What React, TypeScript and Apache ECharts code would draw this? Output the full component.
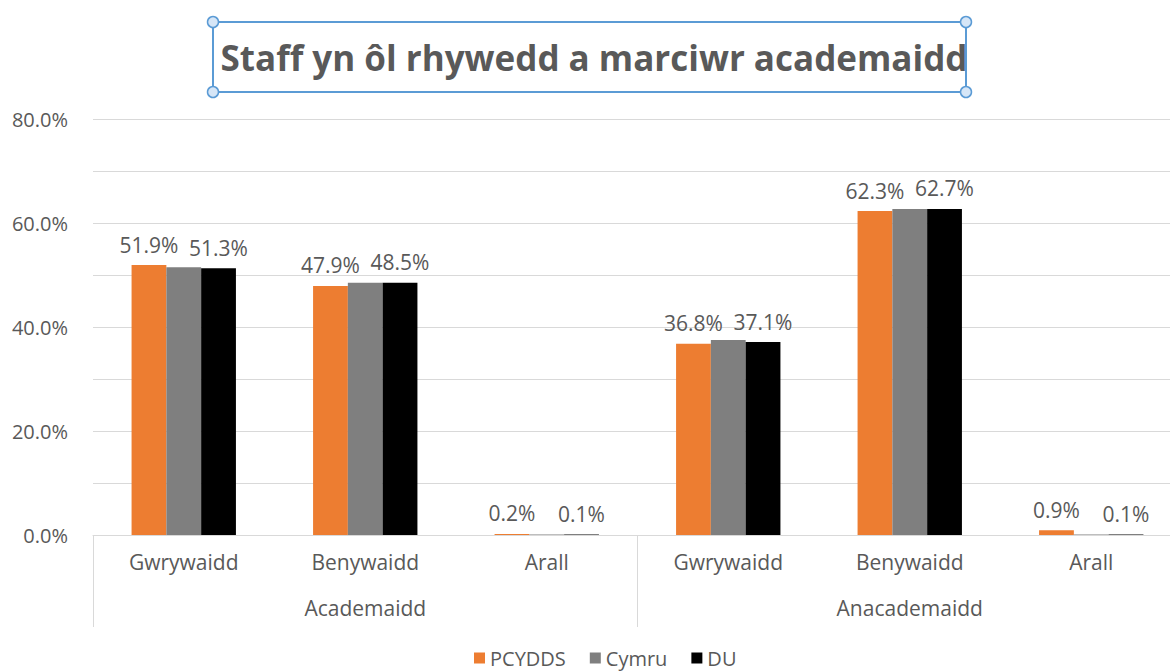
import React, { useEffect, useRef } from "react";
import * as echarts from "echarts";

const categories = ["Gwrywaidd", "Benywaidd", "Arall", "Gwrywaidd", "Benywaidd", "Arall"];
const groups = ["Academaidd", "Anacademaidd"];
const seriesNames = ["PCYDDS", "Cymru", "DU"];
const pcydds = [51.9, 47.9, 0.2, 36.8, 62.3, 0.9];
const cymru = [51.5, 48.5, 0.1, 37.5, 62.7, 0.1];
const du = [51.3, 48.5, 0.1, 37.1, 62.7, 0.1];
const colors = ["#ED7D31", "#7F7F7F", "#000000"];
const titleText = "Staff yn ôl rhywedd a marciwr academaidd";

const FONT = "'Open Sans', sans-serif";
const TXT = "#595959";
const GRID = "#d9d9d9";

export default function App() {
  const ref = useRef<HTMLDivElement>(null);
  useEffect(() => {
    document.body.style.margin = "0";
    const chart = echarts.init(ref.current!, null, { renderer: "svg" });
    const label = {
      show: true,
      position: "top",
      distance: 10,
      color: TXT,
      fontFamily: FONT,
      fontSize: 21,
      formatter: (p: any) => p.value.toFixed(1) + "%",
    };
    const handle = (x: number, y: number) => ({
      type: "circle",
      shape: { cx: x, cy: y, r: 5.5 },
      style: { fill: "#d6e6f7", stroke: "#5B9BD5", lineWidth: 1.5 },
      z: 101,
    });
    chart.setOption({
      animation: false,
      textStyle: { fontFamily: FONT },
      grid: { left: 93, right: -12, top: 119, bottom: 136, containLabel: false, outerBoundsMode: "none" },
      legend: {
        top: 643,
        left: 469,
        padding: [5, 5, 0, 5],
        data: seriesNames,
        icon: "rect",
        itemWidth: 11,
        itemHeight: 11,
        itemGap: 24,
        textStyle: { color: TXT, fontSize: 20, fontFamily: FONT },
      },
      graphic: [
        {
          type: "rect",
          shape: { x: 213, y: 22, width: 753, height: 70 },
          style: { fill: "none", stroke: "#5B9BD5", lineWidth: 2 },
          z: 100,
        },
        handle(213, 22),
        handle(966, 22),
        handle(213, 92),
        handle(966, 92),
        {
          type: "text",
          x: 594,
          y: 57,
          style: {
            text: titleText,
            fill: TXT,
            fontSize: 35,
            fontWeight: "bold",
            fontFamily: FONT,
            align: "center",
            verticalAlign: "middle",
          },
          z: 101,
        },
      ],
      xAxis: [
        {
          type: "category",
          data: categories,
          position: "bottom",
          axisLine: { show: true, lineStyle: { color: GRID } },
          axisTick: { show: false },
          axisLabel: { color: TXT, fontSize: 21, margin: 16, fontFamily: FONT, interval: 0 },
        },
        {
          type: "category",
          data: groups,
          position: "bottom",
          axisLine: { show: false },
          axisTick: { show: true, length: 92, lineStyle: { color: GRID } },
          axisLabel: { color: TXT, fontSize: 21, margin: 62, fontFamily: FONT, interval: 0 },
        },
      ],
      yAxis: {
        type: "value",
        min: 0,
        max: 80,
        interval: 20,
        axisLine: { show: false },
        axisTick: { show: false },
        axisLabel: {
          color: TXT,
          fontSize: 20,
          margin: 25,
          fontFamily: FONT,
          formatter: (v: number) => v.toFixed(1) + "%",
        },
        splitLine: { lineStyle: { color: GRID } },
        minorTick: { show: false, splitNumber: 2 },
        minorSplitLine: { show: true, lineStyle: { color: GRID } },
      },
      series: [
        {
          name: seriesNames[0],
          type: "bar",
          data: pcydds,
          itemStyle: { color: colors[0] },
          barGap: "0%",
          barCategoryGap: "42.5%",
          label,
        },
        {
          name: seriesNames[1],
          type: "bar",
          data: cymru,
          itemStyle: { color: colors[1] },
          barGap: "0%",
          barCategoryGap: "42.5%",
        },
        {
          name: seriesNames[2],
          type: "bar",
          data: du,
          itemStyle: { color: colors[2] },
          barGap: "0%",
          barCategoryGap: "42.5%",
          label,
        },
      ],
    });
    return () => chart.dispose();
  }, []);
  return (
    <div
      ref={ref}
      style={{ position: "fixed", left: 0, top: 0, width: 1170, height: 671, background: "#fff" }}
    />
  );
}
